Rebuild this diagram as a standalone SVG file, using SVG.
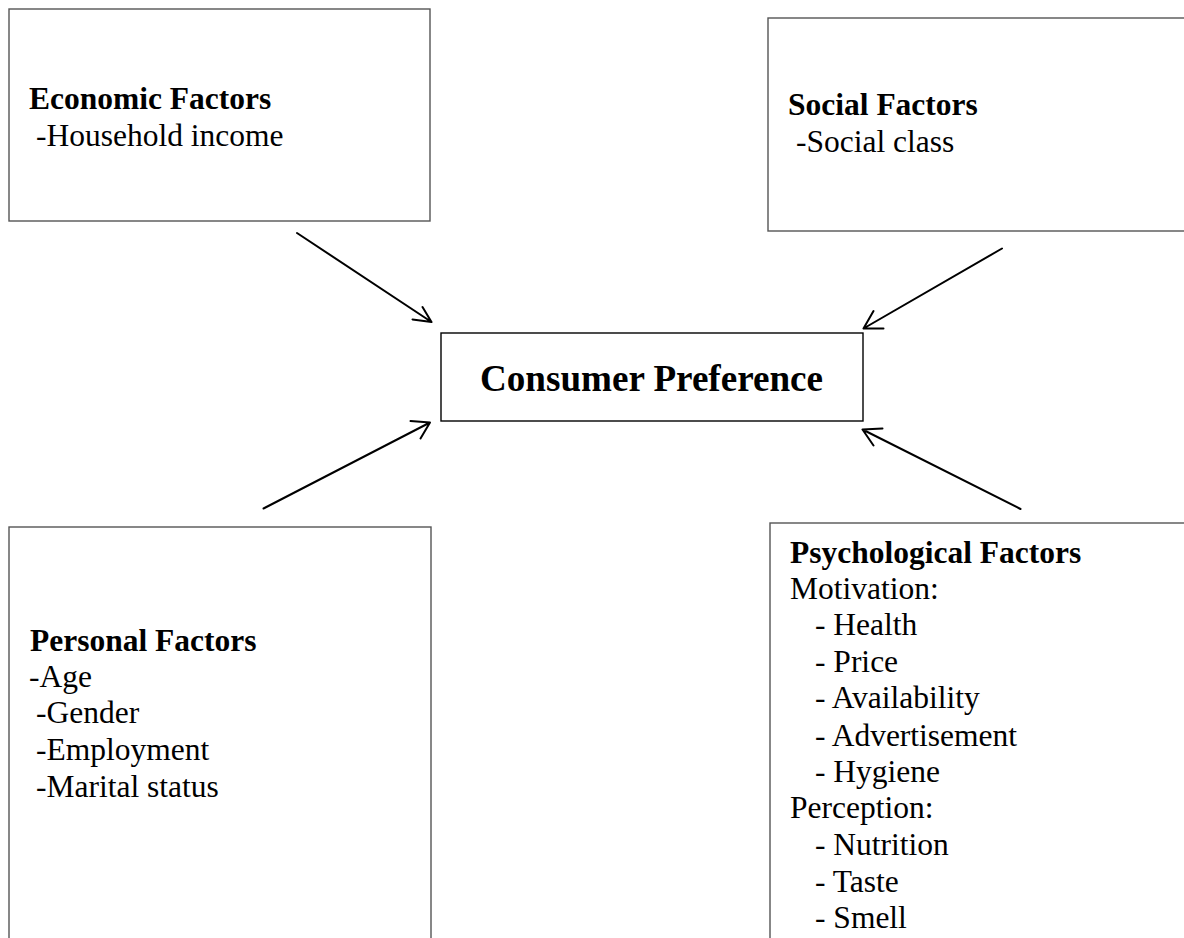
<svg xmlns="http://www.w3.org/2000/svg" width="1184" height="938" viewBox="0 0 1184 938">
<style>
.box{fill:#fff;stroke:#555;stroke-width:1.4}
.cbox{fill:#fff;stroke:#000;stroke-width:1.4}
.arr{fill:none;stroke:#000;stroke-width:2;stroke-linecap:round;stroke-linejoin:round}
</style>
<rect width="1184" height="938" fill="#fff"/>
<g font-family="Liberation Serif, Times New Roman, serif" font-size="31.5" fill="#000">
<g id="economic">
<rect class="box" x="9" y="9" width="421" height="212"/>
<text font-weight="bold" x="29" y="109">Economic Factors</text>
<text x="36" y="146">-Household income</text>
</g>
<g id="social">
<rect class="box" x="768" y="18" width="430" height="213"/>
<text font-weight="bold" x="788" y="115">Social Factors</text>
<text x="796" y="152">-Social class</text>
</g>
<g id="consumer">
<rect class="cbox" x="441" y="333" width="422" height="88"/>
<text font-weight="bold" x="480" y="390.5" font-size="38" textLength="343" lengthAdjust="spacingAndGlyphs">Consumer Preference</text>
</g>
<g id="personal">
<rect class="box" x="9" y="527" width="422" height="430"/>
<text font-weight="bold" x="30" y="651">Personal Factors</text>
<text x="29" y="687">-Age</text>
<text x="36" y="723">-Gender</text>
<text x="36" y="760">-Employment</text>
<text x="36" y="797">-Marital status</text>
</g>
<g id="psychological">
<rect class="box" x="770" y="523" width="430" height="430"/>
<text font-weight="bold" x="790" y="563">Psychological Factors</text>
<text x="790" y="599">Motivation:</text>
<text x="815" y="635">- Health</text>
<text x="815" y="672">- Price</text>
<text x="815" y="708">- Availability</text>
<text x="815" y="746">- Advertisement</text>
<text x="815" y="782">- Hygiene</text>
<text x="790" y="818">Perception:</text>
<text x="815" y="855">- Nutrition</text>
<text x="815" y="892">- Taste</text>
<text x="815" y="928">- Smell</text>
</g>
</g>
<g id="connectors">
<path class="arr" d="M297 233 L431.5 322 M412.5 319.5 L431.5 322 L422.5 307"/>
<path class="arr" d="M1002 248.5 L863.5 328.5 M873.5 311 L863.5 328.5 L883.5 328.5"/>
<path class="arr" d="M263.5 508.5 L430 422.5 M410.5 421 L430 422.5 L420.5 438.5"/>
<path class="arr" d="M1020.5 509 L862.5 429.5 M882.5 428.5 L862.5 429.5 L873.5 445.5"/>
</g>
</svg>
